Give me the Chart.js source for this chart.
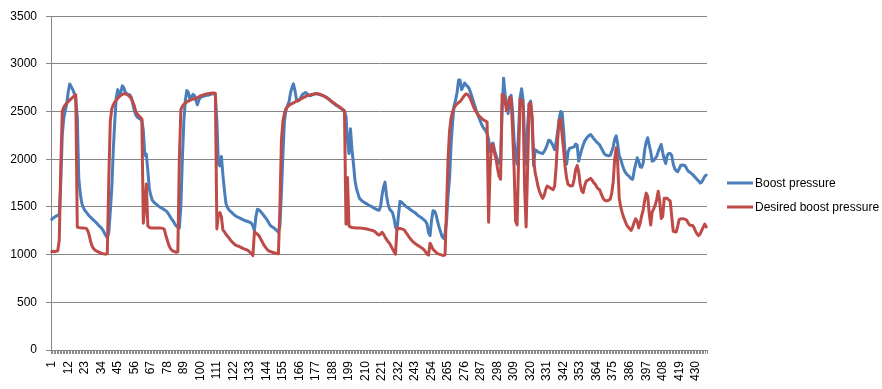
<!DOCTYPE html>
<html>
<head>
<meta charset="utf-8">
<script src="https://cdn.jsdelivr.net/npm/chart.js@4/dist/chart.umd.min.js"></script>
<style>
  html, body { margin: 0; padding: 0; background: #ffffff; }
  #c { display: block; }
</style>
</head>
<body>
<canvas id="c" width="882" height="389"></canvas>
<script>
// Boost pressure (blue), one value per category
const boostPressure = [
  1370,1385,1395,1405,1410,1420,1750,2250,2430,2510,
  2580,2710,2790,2760,2730,2690,2630,2450,1800,1640,
  1540,1495,1465,1445,1425,1405,1390,1375,1360,1345,
  1330,1310,1295,1280,1260,1230,1200,1175,1230,1450,
  1700,2100,2400,2650,2730,2660,2700,2770,2750,2700,
  2690,2680,2675,2650,2580,2510,2465,2440,2430,2420,
  2415,2300,2040,2055,1880,1690,1620,1570,1550,1535,
  1525,1510,1500,1490,1480,1470,1460,1445,1420,1395,
  1370,1350,1320,1300,1285,1280,1500,2000,2400,2620,
  2720,2700,2630,2650,2680,2670,2620,2570,2620,2650,
  2655,2660,2665,2670,2670,2675,2680,2685,2690,2670,
  2400,1950,1930,2030,1840,1680,1540,1495,1470,1455,
  1440,1425,1412,1400,1392,1385,1378,1370,1362,1355,
  1350,1345,1340,1330,1300,1250,1400,1475,1470,1455,
  1435,1415,1395,1375,1350,1320,1300,1290,1280,1265,
  1250,1235,1300,1650,2050,2400,2510,2560,2600,2690,
  2750,2790,2720,2630,2610,2620,2650,2680,2690,2700,
  2690,2670,2665,2670,2680,2685,2690,2685,2680,2675,
  2670,2665,2660,2650,2640,2625,2610,2595,2585,2570,
  2560,2550,2540,2530,2520,2505,2450,2200,2060,2320,
  2100,1950,1780,1690,1640,1590,1575,1560,1550,1540,
  1530,1520,1512,1505,1495,1485,1478,1470,1465,1500,
  1620,1710,1760,1620,1530,1480,1460,1440,1380,1290,
  1260,1420,1560,1550,1535,1520,1505,1495,1485,1470,
  1460,1450,1440,1425,1410,1400,1390,1378,1365,1350,
  1320,1230,1200,1360,1460,1455,1420,1350,1290,1240,
  1190,1170,1220,1350,1620,1800,2150,2380,2560,2620,
  2700,2830,2830,2730,2760,2800,2780,2765,2745,2700,
  2650,2600,2550,2500,2460,2420,2380,2345,2320,2300,
  2270,2210,2080,2130,2170,2090,2040,1990,1960,1990,
  2500,2850,2680,2560,2480,2640,2670,2500,2200,2020,
  1950,2300,2650,2740,2620,2200,1950,2350,2580,2610,
  2400,1930,2100,2090,2075,2070,2065,2060,2080,2110,
  2150,2200,2195,2170,2140,2100,2180,2290,2420,2500,
  2490,2300,2050,1950,2080,2115,2120,2125,2130,2160,
  2150,1980,2040,2100,2150,2190,2215,2235,2250,2260,
  2240,2215,2200,2180,2165,2150,2120,2090,2060,2045,
  2040,2035,2040,2080,2130,2210,2245,2160,2040,2000,
  1945,1900,1865,1845,1830,1815,1795,1790,1880,1950,
  2015,1980,1920,1915,1960,2100,2180,2226,2150,2080,
  1980,1985,2010,2030,2080,2120,2155,2070,2000,1955,
  2040,2060,2060,2040,1950,1900,1880,1870,1900,1935,
  1940,1938,1930,1900,1875,1865,1852,1840,1820,1805,
  1785,1770,1750,1760,1790,1820,1835
];

// Desired boost pressure (red)
const desiredBoostPressure = [
  1030,1035,1030,1035,1040,1150,1900,2500,2545,2570,
  2590,2605,2620,2635,2650,2665,2675,1290,1285,1282,
  1280,1280,1278,1275,1250,1200,1130,1085,1060,1045,
  1035,1030,1020,1015,1010,1008,1005,1010,1800,2400,
  2530,2570,2600,2620,2640,2655,2670,2680,2685,2685,
  2680,2670,2655,2635,2600,2560,2500,2475,2455,2440,
  2425,1330,1500,1740,1300,1285,1280,1280,1280,1280,
  1280,1280,1280,1278,1275,1265,1200,1150,1100,1065,
  1045,1035,1030,1025,1030,2000,2520,2555,2575,2590,
  2600,2610,2618,2625,2630,2635,2640,2645,2655,2665,
  2670,2675,2680,2685,2688,2690,2692,2694,2695,2690,
  1270,1420,1440,1400,1260,1240,1215,1195,1175,1155,
  1135,1120,1105,1095,1090,1085,1075,1070,1060,1055,
  1050,1040,1025,1010,990,1240,1225,1215,1200,1170,
  1140,1110,1085,1065,1045,1035,1030,1025,1020,1015,
  1010,1010,1500,2200,2400,2480,2530,2550,2565,2575,
  2585,2590,2600,2610,2615,2625,2635,2640,2650,2655,
  2665,2670,2675,2680,2682,2685,2686,2686,2684,2680,
  2672,2665,2655,2645,2635,2625,2610,2600,2590,2578,
  2566,2555,2545,2532,2520,2505,1320,1810,1300,1290,
  1285,1283,1282,1280,1280,1280,1278,1276,1274,1272,
  1268,1264,1260,1256,1252,1245,1230,1215,1205,1215,
  1235,1215,1185,1160,1136,1120,1090,1060,1030,1005,
  1280,1275,1275,1270,1265,1255,1230,1210,1185,1165,
  1145,1130,1118,1105,1095,1085,1075,1065,1050,1030,
  1005,995,1120,1090,1055,1040,1025,1010,1005,1000,
  995,990,1000,1500,2000,2300,2430,2500,2540,2565,
  2580,2595,2605,2625,2650,2670,2685,2680,2660,2630,
  2590,2550,2515,2490,2465,2450,2435,2420,2410,2400,
  2390,1340,1900,2160,2150,2060,2000,1900,1820,1790,
  2680,2670,2600,2510,2580,2650,2640,2300,1900,1350,
  1310,2000,2630,2620,2550,1700,1290,1900,2580,2590,
  2450,2000,1860,1790,1710,1660,1620,1590,1620,1680,
  1720,1710,1700,1690,1680,1720,1920,2200,2410,2420,
  2250,2100,1920,1800,1735,1725,1720,1725,1790,1890,
  1935,1870,1740,1670,1650,1720,1770,1780,1790,1800,
  1780,1755,1740,1710,1690,1680,1640,1600,1575,1565,
  1565,1570,1580,1640,1760,2000,2120,1960,1600,1500,
  1440,1390,1350,1310,1290,1270,1255,1290,1340,1375,
  1350,1280,1330,1410,1470,1570,1645,1610,1430,1310,
  1450,1480,1520,1580,1665,1560,1380,1400,1590,1590,
  1590,1575,1562,1400,1245,1240,1238,1300,1370,1375,
  1375,1375,1370,1360,1330,1310,1306,1306,1280,1240,
  1215,1200,1220,1255,1290,1320,1290
];

// Categories are the sample numbers 1..N
const categories = boostPressure.map((_, i) => String(i + 1));
const labelEvery = 11;
const yTicks = [0, 500, 1000, 1500, 2000, 2500, 3000, 3500];
const seriesNames = ['Boost pressure', 'Desired boost pressure'];
const seriesColors = ['#4A7EBB', '#BE4B48'];

const FONT = { family: '"Liberation Sans", Arial, sans-serif', size: 12 };

const sideLegend = {
  id: 'sideLegend',
  afterDraw(chart) {
    const ctx = chart.ctx;
    const rows = [183, 207];
    ctx.save();
    ctx.font = '12px "Liberation Sans", Arial, sans-serif';
    ctx.textBaseline = 'middle';
    chart.data.datasets.forEach((ds, i) => {
      const y = rows[i];
      ctx.strokeStyle = ds.borderColor;
      ctx.lineWidth = 3;
      ctx.lineCap = 'butt';
      ctx.beginPath();
      ctx.moveTo(727, y);
      ctx.lineTo(753, y);
      ctx.stroke();
      ctx.fillStyle = '#000000';
      ctx.fillText(ds.label, 755, y + 0.5);
    });
    ctx.restore();
  }
};

new Chart(document.getElementById('c'), {
  type: 'line',
  data: {
    labels: categories,
    datasets: [
      {
        label: seriesNames[0], data: boostPressure,
        borderColor: seriesColors[0], backgroundColor: seriesColors[0],
        borderWidth: 3, pointRadius: 0, tension: 0,
        borderJoinStyle: 'round', borderCapStyle: 'round', order: 1
      },
      {
        label: seriesNames[1], data: desiredBoostPressure,
        borderColor: seriesColors[1], backgroundColor: seriesColors[1],
        borderWidth: 3, pointRadius: 0, tension: 0,
        borderJoinStyle: 'round', borderCapStyle: 'round', order: 0
      }
    ]
  },
  options: {
    responsive: false,
    animation: false,
    devicePixelRatio: 1,
    layout: { padding: { left: 0, right: 175, top: 7, bottom: 0 } },
    plugins: { legend: { display: false }, tooltip: { enabled: false } },
    scales: {
      x: {
        offset: true,
        grid: { offset: true, drawOnChartArea: false, drawTicks: true, tickLength: 4, color: '#8c8c8c' },
        border: { color: '#868686' },
        ticks: {
          autoSkip: false, minRotation: 90, maxRotation: 90, padding: 7,
          color: '#000000', font: FONT,
          callback: (v, i) => (i % labelEvery === 0 ? categories[i] : '')
        },
        afterFit: s => { s.height = 39; }
      },
      y: {
        min: yTicks[0], max: yTicks[yTicks.length - 1],
        afterBuildTicks: s => { s.ticks = yTicks.map(v => ({ value: v })); },
        grid: { color: '#868686', tickLength: 5 },
        border: { color: '#868686' },
        ticks: { padding: 9, color: '#000000', font: FONT, callback: v => String(v) },
        afterFit: s => { s.width = 51; }
      }
    }
  },
  plugins: [sideLegend]
});
</script>
</body>
</html>
